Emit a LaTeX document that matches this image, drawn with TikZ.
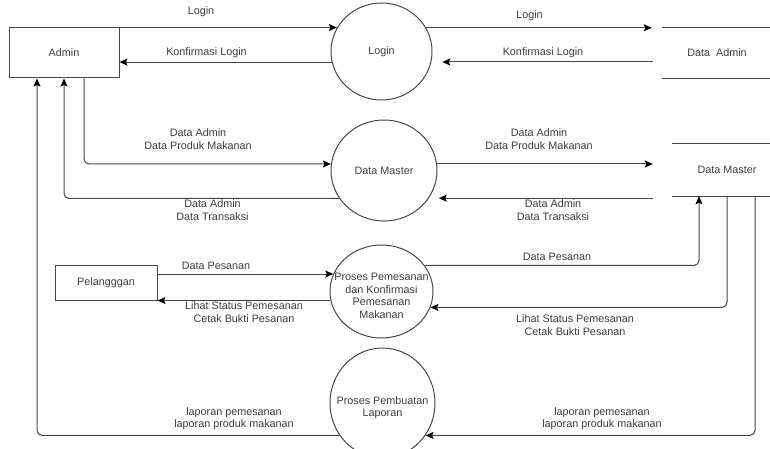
\documentclass[tikz,border=0pt]{standalone}
\usepackage{fontspec}
\setmainfont{Liberation Sans}
\usetikzlibrary{shapes.geometric,arrows.meta}
\definecolor{ln}{RGB}{70,70,70}
\definecolor{tx}{RGB}{60,60,60}
\begin{document}
\begin{tikzpicture}[x=1pt,y=-1pt,
  every node/.style={font=\fontsize{10.8}{12.5}\selectfont, text=tx},
  box/.style={draw=ln, line width=1pt, rectangle, inner sep=0pt},
  proc/.style={draw=ln, line width=1pt, ellipse, inner sep=0pt},
  store/.style={rectangle, inner sep=0pt},
  lbl/.style={align=center, inner sep=0pt},
  flow/.style={draw=ln, line width=1pt, -{Stealth[length=8pt,width=7pt,inset=1.5pt,fill=black,color=black]}, rounded corners=5pt},
  sline/.style={draw=ln, line width=1pt}]
\useasboundingbox (0,0) rectangle (770,449);

% entities, processes, stores
\node[box, minimum width=110pt, minimum height=50pt] (admin) at (64,53) {Admin};
\node[proc, minimum width=101pt, minimum height=97pt, label={center:Login}] (login) at (381.5,51.5) {};
\node[store, minimum width=110pt, minimum height=50pt] (dadmin) at (717,53) {Data\ \ Admin};
\node[proc, minimum width=106pt, minimum height=101pt, label={center:Data Master}] (dmc) at (384,170.5) {};
\node[store, minimum width=110pt, minimum height=52pt] (dms) at (727,170) {Data Master};
\node[box, minimum width=102pt, minimum height=35pt] (pel) at (106,282.5) {Pelangggan};
\node[proc, minimum width=103pt, minimum height=93pt, label={[lbl,yshift=-4.5pt]center:Proses Pemesanan\\dan Konfirmasi\\Pemesanan\\Makanan}] (pp) at (381.5,291.5) {};
\node[proc, minimum width=105pt, minimum height=110pt, label={[lbl,yshift=-4.5pt]center:Proses Pembuatan\\Laporan}] (plap) at (382.5,403) {};

\draw[sline] (dadmin.north west) -- (dadmin.north east);
\draw[sline] (dadmin.south west) -- (dadmin.south east);
\draw[sline] (dms.north west) -- (dms.north east);
\draw[sline] (dms.south west) -- (dms.south east);

% flows
\draw[flow] (admin.north east) -- (admin.north east -| login.152);
\draw[flow, shorten >=10pt] (login.28) -- (login.28 -| dadmin.west);
\draw[flow, shorten >=11pt] ([xshift=-9pt,yshift=-9pt]dadmin.west) -- ([yshift=-9pt]dadmin.west -| login.-12);
\draw[flow] (login.192) -- (login.192 -| admin.east);
\draw[flow] ([xshift=20pt]admin.south) |- (dmc.173);
\draw[flow] (dmc.212) -| (admin.south);
\draw[flow, shorten >=19pt] (dmc.7) -- (dmc.7 -| dms.west);
\draw[flow, shorten >=10pt] ([xshift=-19pt,yshift=-2pt]dms.south west) -- ([yshift=-2pt]dms.south west -| dmc.-32);
\draw[flow] ([yshift=8.5pt]pel.east) -- ([yshift=8.5pt]pel.east -| pp.160);
\draw[flow] (pp.190) -- (pp.190 -| pel.east);
\draw[flow] (pp.31) -| ([xshift=-28pt]dms.south);
\draw[flow] (dms.south) |- (pp.-18);
\draw[flow] ([xshift=28pt]dms.south) |- (plap.-37.5);
\draw[flow] (plap.217.5) -| ([xshift=-27pt]admin.south);

% flow labels
\node[lbl] (t1) at (201,12) {Login};
\node[lbl] (t2) at (206.5,53) {Konfirmasi Login};
\node[lbl] (t3) at (529.5,16) {Login};
\node[lbl] (t4) at (543,53) {Konfirmasi Login};
\node[lbl] (t5) at (198,139) {Data Admin\\Data Produk Makanan};
\node[lbl] (t6) at (212.5,210) {Data Admin\\Data Transaksi};
\node[lbl] (t7) at (539,139) {Data Admin\\Data Produk Makanan};
\node[lbl] (t8) at (553,210) {Data Admin\\Data Transaksi};
\node[lbl] (t9) at (216,266) {Data Pesanan};
\node[lbl] (t10) at (244,312) {Lihat Status Pemesanan\\Cetak Bukti Pesanan};
\node[lbl] (t11) at (557,257) {Data Pesanan};
\node[lbl] (t12) at (575,325) {Lihat Status Pemesanan\\Cetak Bukti Pesanan};
\node[lbl] (t13) at (234,418.5) {laporan pemesanan\\laporan produk makanan};
\node[lbl] (t14) at (602,418.5) {laporan pemesanan\\laporan produk makanan};
\end{tikzpicture}
\end{document}
